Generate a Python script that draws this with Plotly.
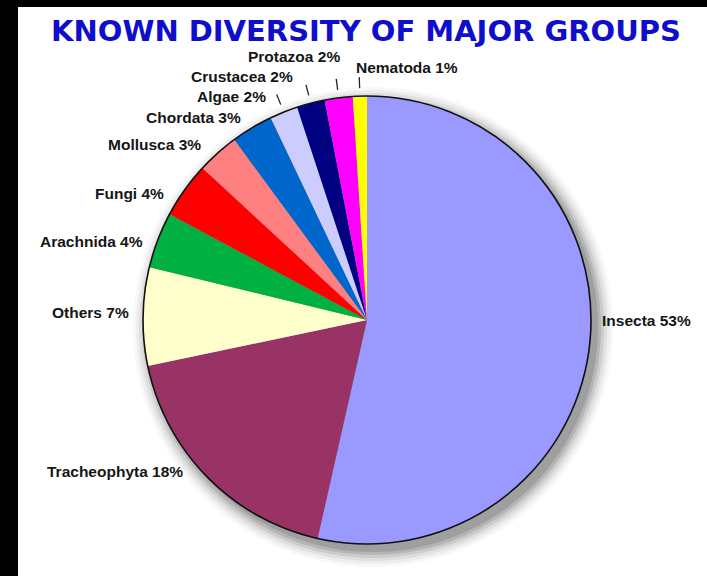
import math
import plotly.graph_objects as go

# ---- data ----
categories = ["Insecta", "Tracheophyta", "Others", "Arachnida", "Fungi", "Mollusca",
              "Chordata", "Algae", "Crustacea", "Protazoa", "Nematoda"]
percent = [53, 18, 7, 4, 4, 3, 3, 2, 2, 2, 1]
title_text = "KNOWN DIVERSITY OF MAJOR GROUPS"

# ---- style ----
colors = ["#9999FF", "#993366", "#FFFFCC", "#00B040", "#FF0000", "#FF8080",
          "#0066CC", "#CCCCFF", "#000080", "#FF00FF", "#FFFF00"]
# label anchor side and pixel nudges (style only)
label_anchor = ["left", "right", "right", "right", "right", "right",
                "right", "right", "right", "right", "left"]
label_nudge = [(-2, -26), (-14, -14), (0, -4), (-2, 6), (-9, 10), (-7, 0),
               (-3, 0), (-11, -4), (-13, -15), (5, -29), (-6, -17)]
with_tick = [False, False, False, False, False, False, False, True, True, True, True]

W, H = 707, 576
CX, CY, R = 367, 320, 224          # pie centre / radius in pixels
LABEL_R = 236


def px(x):
    return x / W


def py(y):
    return 1 - y / H


fig = go.Figure()
fig.add_trace(go.Pie(
    labels=categories, values=percent, sort=False, direction="clockwise",
    rotation=0, marker=dict(colors=colors, line=dict(width=0)),
    textinfo="none", hoverinfo="label+percent", showlegend=False,
    domain=dict(x=[px(CX - R), px(CX + R)], y=[py(CY + R), py(CY - R)]),
))

shapes = []
# white panel inside black frame
shapes.append(dict(type="rect", xref="paper", yref="paper", x0=px(18), x1=1,
                   y0=0, y1=py(7), fillcolor="white", line=dict(width=0), layer="below"))
# soft shadow
for grow, op in [(16, 0.06), (13, 0.09), (10, 0.13), (7, 0.2), (4, 0.3), (1, 0.4)]:
    ox, oy = 6, 7
    shapes.append(dict(type="circle", xref="paper", yref="paper",
                       x0=px(CX + ox - R - grow), x1=px(CX + ox + R + grow),
                       y0=py(CY + oy + R + grow), y1=py(CY + oy - R - grow),
                       fillcolor="#808080", opacity=op, line=dict(width=0), layer="below"))
# outline
shapes.append(dict(type="circle", xref="paper", yref="paper",
                   x0=px(CX - R), x1=px(CX + R), y0=py(CY + R), y1=py(CY - R),
                   line=dict(color="#111111", width=1.6), layer="above"))

annotations = []
total = sum(percent)
cum = 0.0
for i, (cat, v) in enumerate(zip(categories, percent)):
    mid = (cum + v / 2) / total * 2 * math.pi
    cum += v
    dx, dy = math.sin(mid), -math.cos(mid)
    lx = CX + LABEL_R * dx + label_nudge[i][0]
    ly = CY + LABEL_R * dy + label_nudge[i][1]
    annotations.append(dict(
        x=px(lx), y=py(ly), xref="paper", yref="paper", showarrow=False,
        text=f"{cat} {v}%", xanchor=label_anchor[i], yanchor="middle",
        font=dict(family="Liberation Sans, Arial, sans-serif", size=15.5,
                  color="#151515", weight="bold"),
    ))
    if with_tick[i]:
        r0, r1 = 232, 243
        shapes.append(dict(type="line", xref="paper", yref="paper",
                           x0=px(CX + r0 * dx), y0=py(CY + r0 * dy),
                           x1=px(CX + r1 * dx), y1=py(CY + r1 * dy),
                           line=dict(color="#222222", width=1.3)))

annotations.append(dict(
    x=px(366), y=py(31), xref="paper", yref="paper", showarrow=False,
    text=title_text, xanchor="center", yanchor="middle",
    font=dict(family="DejaVu Sans, sans-serif", size=29, color="#0E0ECC", weight="bold"),
))

fig.update_layout(
    width=W, height=H, margin=dict(l=0, r=0, t=0, b=0),
    paper_bgcolor="black", plot_bgcolor="black",
    shapes=shapes, annotations=annotations, showlegend=False,
)
fig.write_html("out.html")
